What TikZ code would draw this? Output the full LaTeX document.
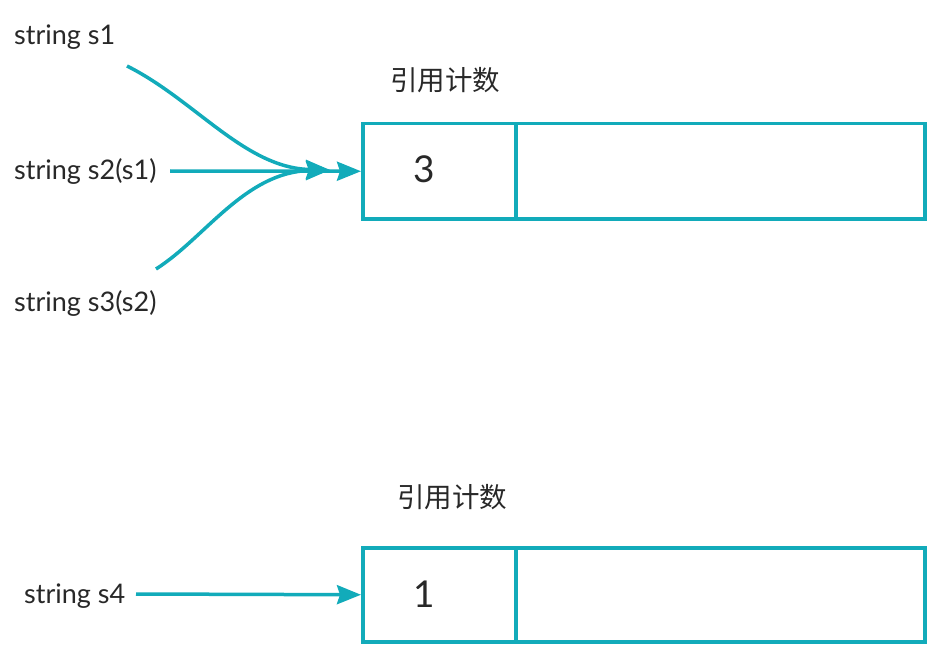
\documentclass[tikz,border=0pt]{standalone}
\usepackage{fontspec}
\setmainfont{Lato}
\newfontfamily\cjkfont{Noto Sans CJK SC}
\usetikzlibrary{arrows.meta}
\definecolor{teal1}{RGB}{18,171,186}
\definecolor{txt}{RGB}{40,40,40}
\tikzset{
  lbl/.style={inner sep=0pt, text=txt, font=\fontsize{27}{30}\selectfont, anchor=base west},
  cjk/.style={inner sep=0pt, text=txt, font=\cjkfont\fontsize{27.5}{30}\selectfont},
  cell/.style={draw=teal1, line width=3.5pt, inner sep=0pt, anchor=north west},
  num/.style={inner sep=0pt, text=txt, font=\fontsize{37}{40}\selectfont},
  conn/.style={draw=teal1, line width=3.5pt, -{Stealth[length=24pt,width=19pt,inset=3pt]}},
}
\begin{document}
\begin{tikzpicture}[x=1pt,y=-1pt]
\useasboundingbox (0,0) rectangle (936,647);
% labels
\node[lbl] (s1) at (14,45) {string s1};
\node[lbl] (s2) at (14,179) {string s2(s1)};
\node[lbl] (s3) at (14,311) {string s3(s2)};
\node[lbl] (s4) at (24,603) {string s4};
\node[cjk] (c1) at (445,80) {引用计数};
\node[cjk] (c2) at (452,497) {引用计数};
% top box
\node[cell, minimum width=153pt, minimum height=95pt] (b1) at (361,122) {};
\node[cell, minimum width=409pt, minimum height=95pt] (b1r) at (514,122) {};
\node[num] (n1) at (424,169) {3};
% bottom box
\node[cell, minimum width=153pt, minimum height=94pt] (b2) at (361,546) {};
\node[cell, minimum width=409pt, minimum height=94pt] (b2r) at (514,546) {};
\node[num] (n2) at (424,594) {1};
% connectors
\coordinate (a1) at (127,66);
\coordinate (a2) at (170,171);
\coordinate (a3) at (156,269);
\coordinate (a4) at (136,594);
\coordinate (e) at (330,170);
\draw[conn] (a1) .. controls (195,100) and (245,168) .. (e);
\draw[conn] (a3) .. controls (205,238) and (245,172) .. (e);
\draw[conn] (a2) -- (b1.west);
\draw[conn] (a4) -- (b2.west);
\end{tikzpicture}
\end{document}
